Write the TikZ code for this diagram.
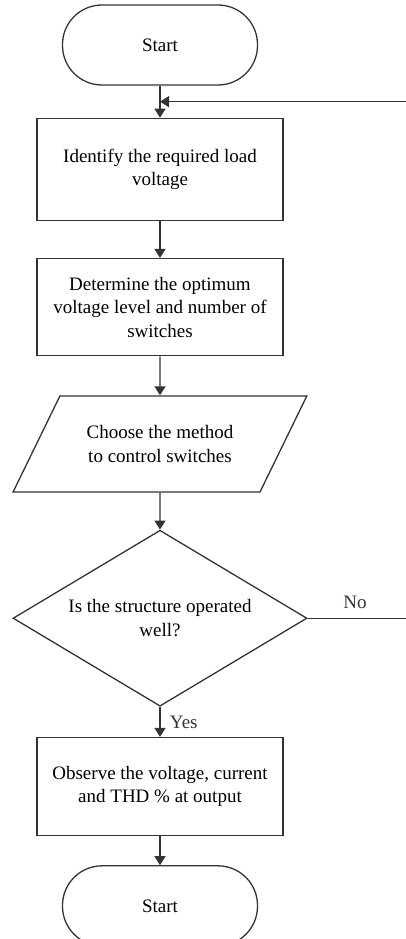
\documentclass[tikz,border=0pt]{standalone}
\usepackage{fontspec}
\setmainfont{Liberation Serif}
\usetikzlibrary{arrows.meta, positioning, shapes.geometric, calc}
\definecolor{ink}{HTML}{333333}

\begin{document}
\begin{tikzpicture}[
  x=1pt, y=1pt,
  node distance=32pt,
  txt/.style={font=\fontsize{19}{23.5}\selectfont},
  term/.style={txt, draw=ink, line width=1.3pt, rounded corners=39.5pt,
               minimum width=195pt, minimum height=80pt},
  proc/.style={txt, draw=ink, line width=1.3pt, align=center,
               minimum width=246pt, minimum height=98pt},
  io/.style={txt, draw=ink, line width=1.3pt, align=center, trapezium,
             trapezium left angle=51, trapezium right angle=129,
             trapezium stretches=true, inner xsep=2pt,
             minimum width=294pt, minimum height=96pt},
  dec/.style={txt, draw=ink, line width=1.3pt, align=center, diamond,
              aspect=1.67, inner sep=0pt, minimum width=294pt, minimum height=176pt},
  arr/.style={-{Triangle[length=9pt,width=11pt]}, line width=1.3pt, draw=ink},
  lbl/.style={txt, text=ink}
]
\useasboundingbox (0,0) rectangle (406,-939);

\node[term] (start) at (160,-45) {Start};
\node[proc, below=32pt of start, minimum height=102pt] (ident) {Identify the required load\\ voltage};
\node[proc, below=37pt of ident, minimum height=97pt] (optim) {Determine the optimum\\ voltage level and number of\\ switches};
\node[io, below=39pt of optim] (method) {Choose the method\\ to control switches};
\node[dec, below=37pt of method] (check) {Is the structure operated\\ well?};
\node[proc, below=30pt of check] (observe) {Observe the voltage, current\\ and THD \% at output};
\node[term, below=29pt of observe] (stop) {Start};

\coordinate (join) at ($(start.south)!0.5!(ident.north)$);
\coordinate (loop) at ($(check.east)+(110,0)$);

\draw[arr] (start) -- (ident);
\draw[arr] (ident) -- (optim);
\draw[arr] (optim) -- (method);
\draw[arr] (method) -- (check);
\draw[arr] (check) -- node[lbl, right=6pt] (yes) {Yes} (observe);
\draw[arr] (observe) -- (stop);

% back to the start when the check fails
\draw[arr] (check.east) -- node[lbl, above=6pt, pos=0.43] (no) {No} (loop) |- (join);
\end{tikzpicture}
\end{document}
